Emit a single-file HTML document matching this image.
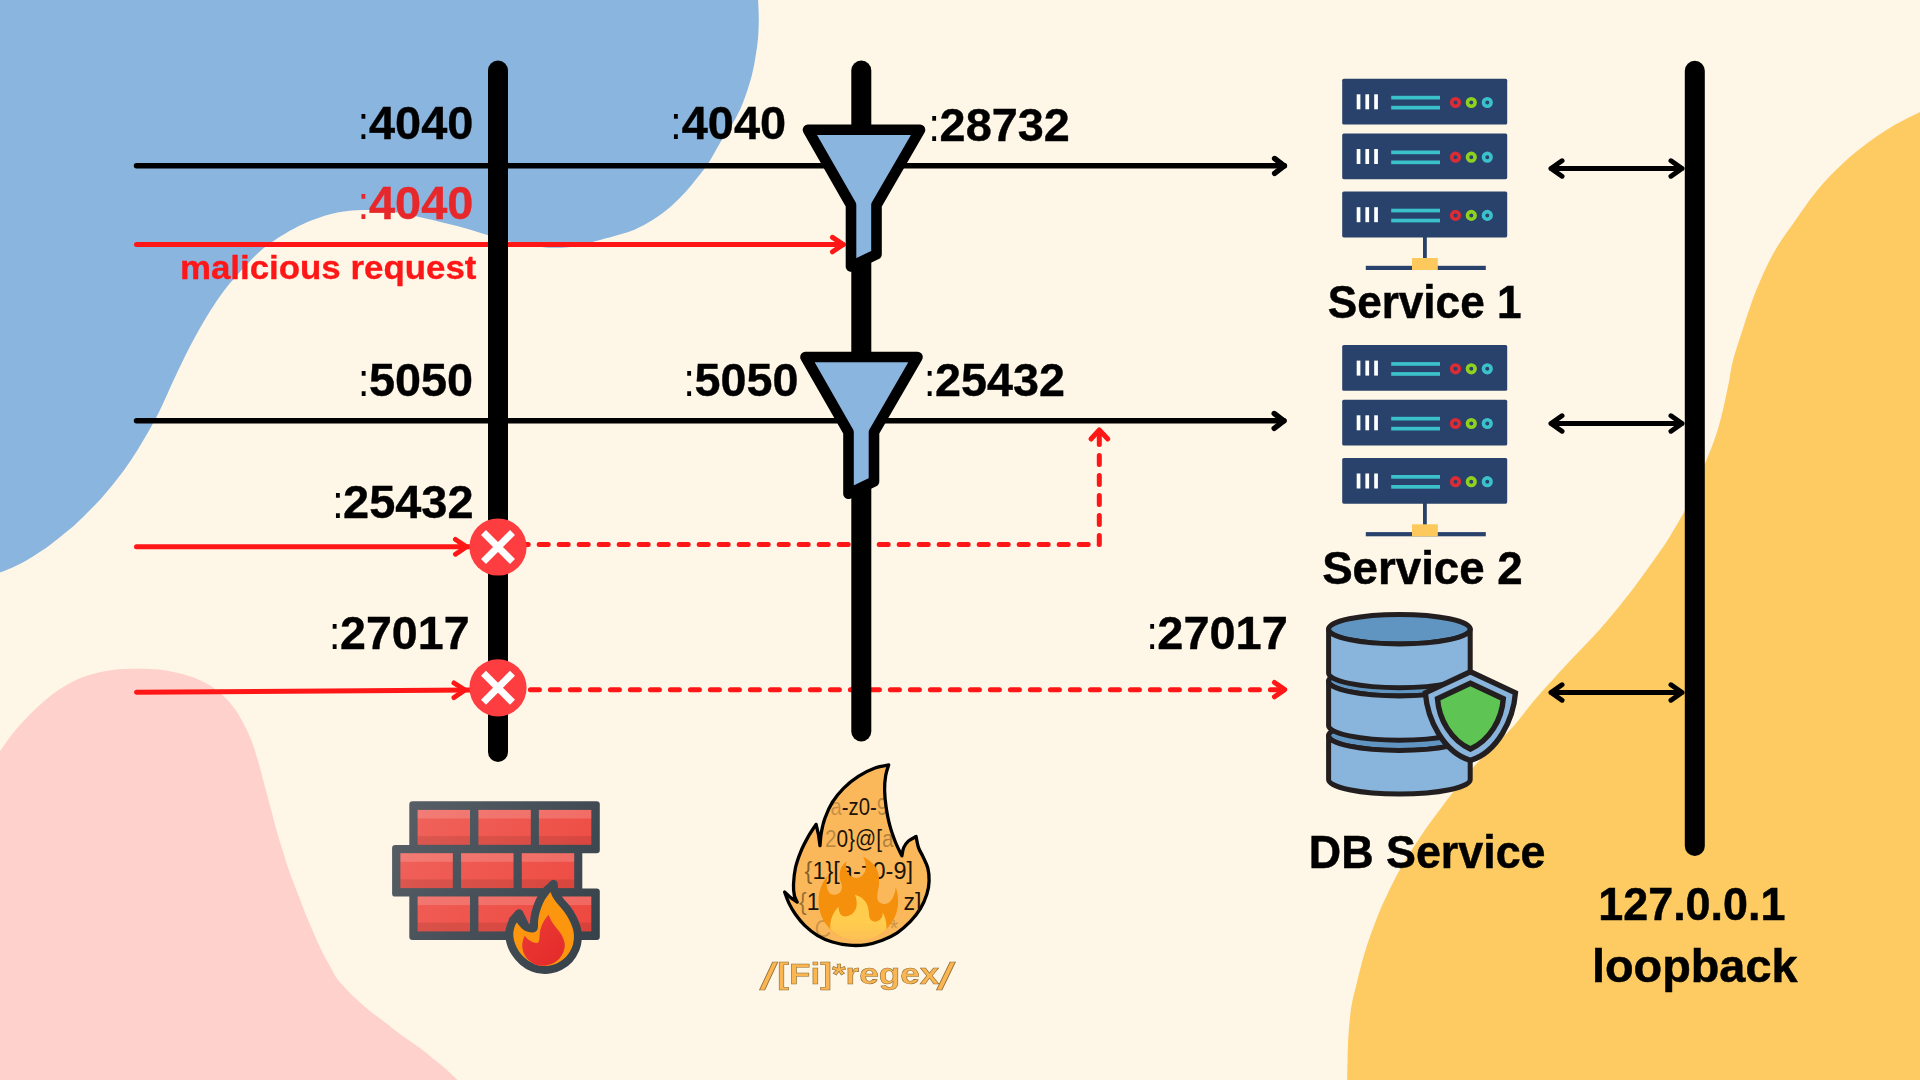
<!DOCTYPE html>
<html><head><meta charset="utf-8"><title>Firegex diagram</title>
<style>
html,body{margin:0;padding:0;background:#fef6e6;overflow:hidden}
svg{display:block}
text{font-family:"Liberation Sans",sans-serif}
.b{font-weight:700}
</style></head><body>
<svg width="1920" height="1080" viewBox="0 0 1920 1080">
<rect width="1920" height="1080" fill="#fef6e6"/>
<!-- background blobs -->
<path d="M757.8,-8.0 C757.8,-6.7 757.9,-4.5 758.1,0.0 C758.3,4.5 758.8,12.5 758.8,18.8 C758.8,25.0 758.6,31.2 758.1,37.5 C757.6,43.8 756.6,50.0 755.6,56.2 C754.6,62.5 753.5,68.8 751.9,75.0 C750.3,81.2 748.2,88.1 746.2,93.8 C744.3,99.4 742.6,104.0 740.3,109.0 C738.0,114.0 735.3,119.0 732.3,124.0 C729.3,129.0 726.4,132.3 722.5,138.8 C718.6,145.2 712.9,156.0 708.8,162.5 C704.6,169.0 701.5,172.5 697.5,177.5 C693.5,182.5 689.2,187.9 685.0,192.5 C680.8,197.1 676.7,201.2 672.5,205.0 C668.3,208.8 664.2,212.0 660.0,215.0 C655.8,218.0 651.7,220.7 647.5,223.1 C643.3,225.5 639.9,227.4 635.0,229.4 C630.1,231.4 623.8,233.3 618.0,235.1 C612.2,236.9 607.2,238.1 600.0,240.0 C592.8,241.9 582.9,245.0 575.0,246.2 C567.1,247.5 560.8,248.0 552.5,247.8 C544.2,247.5 532.4,246.1 525.0,245.0 C517.6,243.9 514.4,242.9 508.1,241.2 C501.9,239.6 495.1,237.3 487.5,235.0 C479.9,232.7 470.8,229.8 462.5,227.5 C454.2,225.2 445.2,223.1 437.5,221.2 C429.8,219.4 423.5,217.9 416.2,216.3 C409.0,214.7 402.7,213.0 393.8,211.9 C384.8,210.8 371.9,209.9 362.5,210.0 C353.1,210.1 345.8,210.8 337.5,212.5 C329.2,214.2 319.8,217.3 312.5,220.0 C305.2,222.7 300.0,225.4 293.8,228.8 C287.5,232.1 280.6,236.2 275.0,240.0 C269.4,243.8 264.6,247.3 260.0,251.2 C255.4,255.2 251.7,259.4 247.5,263.8 C243.3,268.1 239.0,273.0 235.0,277.5 C231.0,282.0 227.9,285.4 223.8,291.0 C219.6,296.6 214.4,304.3 210.0,311.2 C205.6,318.2 201.7,325.0 197.5,332.5 C193.3,340.0 189.2,347.9 185.0,356.2 C180.8,364.6 176.7,373.5 172.5,382.5 C168.3,391.5 163.8,402.3 160.0,410.0 C156.2,417.7 153.8,422.1 150.0,428.8 C146.2,435.4 141.7,443.3 137.5,450.0 C133.3,456.7 129.2,462.9 125.0,468.8 C120.8,474.6 116.7,479.8 112.5,485.0 C108.3,490.2 104.2,495.1 100.0,499.7 C95.8,504.3 91.7,508.3 87.5,512.5 C83.3,516.7 79.2,521.0 75.0,524.7 C70.8,528.5 66.7,531.6 62.5,535.0 C58.3,538.4 53.5,542.4 50.0,545.0 C46.5,547.6 44.5,548.9 41.7,550.8 C38.9,552.7 36.1,554.5 33.3,556.2 C30.5,558.0 27.8,559.7 25.0,561.2 C22.2,562.8 19.5,564.1 16.7,565.4 C13.9,566.7 11.1,568.0 8.3,569.2 C5.5,570.4 2.7,571.4 0.0,572.5 C-2.7,573.6 -6.7,575.4 -8.0,576.0 L-8,-8 Z" fill="#8ab5de"/>
<path d="M1935.0,104.5 C1932.5,105.7 1927.1,108.3 1920.0,111.9 C1912.9,115.5 1901.2,121.0 1892.5,126.2 C1883.8,131.4 1875.8,136.8 1867.5,143.1 C1859.2,149.3 1850.8,155.9 1842.5,163.8 C1834.2,171.6 1825.8,179.9 1817.5,190.0 C1809.2,200.1 1799.2,215.0 1792.5,224.4 C1785.8,233.8 1782.1,238.7 1777.5,246.2 C1772.9,253.8 1769.2,261.0 1765.0,270.0 C1760.8,279.0 1756.2,290.0 1752.5,300.0 C1748.8,310.0 1745.7,320.0 1742.5,330.0 C1739.3,340.0 1735.4,351.2 1733.1,360.0 C1730.8,368.8 1730.3,374.8 1728.8,382.5 C1727.2,390.2 1725.4,399.0 1723.8,406.2 C1722.1,413.5 1720.6,419.8 1718.8,426.2 C1716.9,432.7 1714.8,438.8 1712.5,445.0 C1710.2,451.2 1707.8,456.8 1705.0,463.8 C1702.2,470.8 1698.9,479.2 1695.5,487.0 C1692.1,494.8 1689.0,502.4 1684.8,510.6 C1680.5,518.8 1674.5,528.9 1670.0,536.2 C1665.5,543.6 1661.7,549.0 1657.5,555.0 C1653.3,561.0 1649.2,566.8 1645.0,572.5 C1640.8,578.2 1637.3,583.1 1632.5,589.4 C1627.7,595.6 1621.2,603.9 1616.2,610.0 C1611.2,616.1 1606.9,621.2 1602.5,626.2 C1598.1,631.2 1594.2,635.5 1590.0,640.0 C1585.8,644.5 1581.7,648.7 1577.5,653.1 C1573.3,657.5 1569.2,661.8 1565.0,666.2 C1560.8,670.7 1556.7,675.4 1552.5,680.0 C1548.3,684.6 1544.2,689.0 1540.0,693.8 C1535.8,698.5 1531.7,703.6 1527.5,708.8 C1523.3,713.9 1520.2,718.5 1515.0,724.4 C1509.8,730.3 1502.0,737.9 1496.0,744.0 C1490.0,750.1 1483.9,755.8 1478.8,761.2 C1473.6,766.8 1469.4,771.7 1465.0,777.0 C1460.6,782.3 1456.7,787.7 1452.5,793.1 C1448.3,798.5 1444.2,803.9 1440.0,809.4 C1435.8,814.9 1431.7,820.3 1427.5,826.2 C1423.3,832.2 1418.8,839.2 1415.0,845.0 C1411.2,850.8 1407.8,856.6 1405.0,861.2 C1402.2,865.9 1400.5,868.4 1398.0,873.0 C1395.5,877.6 1392.8,883.0 1390.0,888.8 C1387.2,894.5 1384.0,901.2 1381.2,907.5 C1378.5,913.8 1376.0,920.2 1373.8,926.2 C1371.5,932.3 1369.5,937.7 1367.5,943.8 C1365.5,949.8 1363.7,956.0 1361.9,962.5 C1360.1,969.0 1358.5,975.8 1356.9,982.5 C1355.3,989.2 1353.2,996.7 1352.1,1002.5 C1350.9,1008.3 1350.6,1012.4 1350.0,1017.5 C1349.4,1022.6 1349.0,1027.5 1348.6,1033.3 C1348.2,1039.1 1347.9,1044.7 1347.7,1052.5 C1347.5,1060.3 1347.3,1073.8 1347.2,1080.0 C1347.1,1086.2 1347.1,1088.3 1347.1,1090.0 L1935,1090 Z" fill="#fdcb62"/>
<path d="M-8.0,763.0 C-6.7,761.0 -3.4,756.1 0.0,751.2 C3.4,746.4 8.3,739.1 12.5,733.8 C16.7,728.4 20.8,723.9 25.0,719.4 C29.2,714.9 33.3,710.8 37.5,706.9 C41.7,703.0 45.8,699.5 50.0,696.2 C54.2,693.0 58.3,690.1 62.5,687.5 C66.7,684.9 70.8,682.6 75.0,680.6 C79.2,678.6 83.3,677.0 87.5,675.6 C91.7,674.2 95.8,673.2 100.0,672.2 C104.2,671.3 108.3,670.5 112.5,670.0 C116.7,669.5 120.8,669.3 125.0,669.1 C129.2,668.9 133.3,668.8 137.5,668.8 C141.7,668.7 145.8,668.8 150.0,669.0 C154.2,669.2 158.0,669.4 162.5,670.0 C167.0,670.6 172.6,671.7 177.0,672.7 C181.4,673.7 185.2,674.8 189.0,676.0 C192.8,677.2 196.0,678.3 200.0,680.2 C204.0,682.1 208.7,684.4 213.0,687.4 C217.3,690.4 222.2,694.6 226.0,698.4 C229.8,702.2 232.7,706.0 235.5,710.0 C238.3,714.0 240.4,717.5 243.0,722.5 C245.6,727.5 249.0,734.6 251.2,740.0 C253.5,745.4 254.6,749.6 256.2,755.0 C257.9,760.4 259.7,766.7 261.2,772.5 C262.8,778.3 263.9,782.9 265.8,790.0 C267.7,797.1 270.6,807.7 272.5,815.0 C274.4,822.3 275.8,827.9 277.5,833.8 C279.2,839.6 280.8,844.6 282.5,850.0 C284.2,855.4 285.8,861.2 287.5,866.2 C289.2,871.2 290.6,875.0 292.5,880.0 C294.4,885.0 296.2,889.8 298.8,896.2 C301.2,902.7 304.8,912.1 307.5,918.8 C310.2,925.4 312.5,930.6 315.0,936.2 C317.5,941.9 320.0,947.5 322.5,952.5 C325.0,957.5 327.7,962.1 330.0,966.2 C332.3,970.4 334.2,974.4 336.2,977.5 C338.3,980.6 340.2,982.4 342.5,985.0 C344.8,987.6 347.4,990.5 350.0,993.1 C352.6,995.7 354.7,997.8 358.0,1000.8 C361.3,1003.8 365.5,1007.4 370.0,1011.0 C374.5,1014.6 379.6,1018.3 384.8,1022.3 C390.1,1026.3 395.8,1031.0 401.5,1035.2 C407.2,1039.4 413.5,1043.2 419.2,1047.5 C424.9,1051.8 430.9,1056.8 435.8,1060.8 C440.7,1064.8 444.7,1068.0 448.3,1071.2 C451.9,1074.5 454.2,1076.9 457.5,1080.0 C460.8,1083.1 466.2,1088.3 468.0,1090.0 L-8,1090 Z" fill="#fed1cc"/>

<!-- horizontal flow lines -->
<g fill="none" stroke="#000" stroke-width="5.4" stroke-linecap="round" stroke-linejoin="round">
  <path d="M136.5,165.8 H1284.5"/>
  <path d="M1274.6,158.5 L1284.3,165.9 L1274.6,173.4"/>
  <path d="M136.5,420.8 H1284"/>
  <path d="M1274.2,413.5 L1283.9,420.9 L1274.2,428.4"/>
</g>
<g fill="none" stroke="#ff1616" stroke-width="5" stroke-linecap="round" stroke-linejoin="round">
  <path d="M136.5,244.5 H843"/>
  <path d="M832.5,237.3 L843.3,244.5 L832.5,251.8"/>
  <path d="M136.5,546.8 H472"/>
  <path d="M455.5,539.5 L466.5,546.8 L455.5,554.2"/>
  <path d="M136.5,692.3 L472,689.9"/>
  <path d="M454,683 L465,690 L454,697.5"/>
  <!-- dashed -->
  <path d="M499.2,544.4 H1099.3 V430" stroke-dasharray="9 11"/>
  <path d="M1091,439 L1099.3,430 L1107.8,439"/>
  <path d="M490.4,689.8 H1284.5" stroke-dasharray="9 11"/>
  <path d="M1274.5,682.5 L1284.7,689.6 L1274.5,696.8"/>
</g>

<!-- vertical bars -->
<g stroke="#000" stroke-width="20" stroke-linecap="round" fill="none">
  <path d="M498,70.5 V752"/>
  <path d="M861.3,70.5 V731.5"/>
  <path d="M1694.8,70.8 V846"/>
</g>

<!-- funnels -->
<g fill="#8ab5de" stroke="#000" stroke-width="10.6" stroke-linejoin="round">
  <path id="fun" d="M808,129.8 H920 L876.5,205 V254.3 L851,266.5 V205 Z"/>
  <use href="#fun" x="-2.5" y="227.2"/>
</g>

<!-- blocked circles -->
<g>
  <circle cx="498" cy="547" r="28.6" fill="#fd3d40"/>
  <path d="M483.5,532.5 L512.5,561.5 M512.5,532.5 L483.5,561.5" stroke="#fff" stroke-width="7" fill="none"/>
  <circle cx="498" cy="687.8" r="28.6" fill="#fd3d40"/>
  <path d="M483.5,673.3 L512.5,702.3 M512.5,673.3 L483.5,702.3" stroke="#fff" stroke-width="7" fill="none"/>
</g>


<!-- server racks -->
<defs>
  <g id="unit">
    <rect x="0" y="0" width="165" height="45.8" rx="1.6" fill="#29426b"/>
    <rect x="14.5" y="15.6" width="3.7" height="15" fill="#fff"/>
    <rect x="23.2" y="15.6" width="3.7" height="15" fill="#fff"/>
    <rect x="32" y="15.6" width="3.7" height="15" fill="#fff"/>
    <rect x="49" y="17.1" width="48.8" height="3.7" fill="#3bc1ca"/>
    <rect x="49" y="27.1" width="48.8" height="3.7" fill="#3bc1ca"/>
    <circle cx="113.3" cy="23.8" r="3.8" fill="none" stroke="#dc2b34" stroke-width="3.6"/>
    <circle cx="129.1" cy="23.8" r="3.8" fill="none" stroke="#8fd21e" stroke-width="3.6"/>
    <circle cx="145.1" cy="23.8" r="3.8" fill="none" stroke="#3bc1ca" stroke-width="3.6"/>
  </g>
  <g id="rack">
    <use href="#unit" x="0" y="0"/>
    <use href="#unit" x="0" y="54.7"/>
    <use href="#unit" x="0" y="112.9"/>
    <rect x="80.8" y="158" width="3.8" height="22" fill="#29426b"/>
    <rect x="23.6" y="187.1" width="120" height="4.2" fill="#29426b"/>
    <rect x="69.8" y="179.3" width="25.8" height="12" fill="#fdc95d"/>
  </g>
</defs>
<use href="#rack" x="1342.2" y="78.7"/>
<use href="#rack" x="1342.2" y="345"/>


<!-- DB icon -->
<g stroke="#231f20" stroke-width="5" stroke-linejoin="round" stroke-linecap="round">
  <ellipse cx="1399.4" cy="735.7" rx="70.8" ry="14.7" fill="#6195c1"/>
  <path d="M1328.6,735.7 V779.4 A70.8,14.7 0 0 0 1470.2,779.4 V735.7 A70.8,14.7 0 0 1 1328.6,735.7 Z" fill="#89b4db"/>
  <ellipse cx="1399.4" cy="681.2" rx="70.8" ry="14.7" fill="#6195c1"/>
  <path d="M1328.6,681.2 V725.5 A70.8,14.7 0 0 0 1470.2,725.5 V681.2 A70.8,14.7 0 0 1 1328.6,681.2 Z" fill="#89b4db"/>
  <ellipse cx="1399.4" cy="629.2" rx="70.8" ry="14.7" fill="#6195c1"/>
  <path d="M1328.6,629.2 V673.0 A70.8,14.7 0 0 0 1470.2,673.0 V629.2 A70.8,14.7 0 0 1 1328.6,629.2 Z" fill="#89b4db"/>
</g>
<g stroke="#231f20" stroke-linejoin="miter" transform="translate(1470.4,716.2) scale(1.022,1.03) translate(-1470.2,-716)">
  <path d="M1470.2,672.8 L1514.3,693.3 C1512.3,719.0 1496.7,751.1 1470.2,758.9 C1443.7,751.1 1428.1,719.0 1426.1,693.3 Z" fill="#89b4db" stroke-width="5.2"/>
  <path d="M1470.2,684 L1502.4,699 C1501.0,719.3 1489.1,739.2 1470.2,747.9 C1451.3,739.2 1439.4,719.3 1438.0,699 Z" fill="#5ec453" stroke-width="5.3"/>
</g>









<!-- firewall icon -->
<defs>
  <linearGradient id="frm" gradientUnits="userSpaceOnUse" x1="395" y1="805" x2="600" y2="945"><stop offset="0" stop-color="#585f67"/><stop offset="1" stop-color="#36414a"/></linearGradient>
  <linearGradient id="brk" gradientUnits="userSpaceOnUse" x1="395" y1="805" x2="600" y2="945"><stop offset="0" stop-color="#f0655d"/><stop offset="1" stop-color="#ed463d"/></linearGradient>
  <linearGradient id="flr" gradientUnits="userSpaceOnUse" x1="525" y1="920" x2="565" y2="965"><stop offset="0" stop-color="#ea3a35"/><stop offset="1" stop-color="#e42a2a"/></linearGradient>
</defs>
<g>
  <rect x="409.3" y="801.2" width="190.5" height="52" rx="3.2" fill="url(#frm)"/>
  <rect x="392.1" y="845" width="190.2" height="51.6" rx="3.2" fill="url(#frm)"/>
  <rect x="409.3" y="888.4" width="190.5" height="51.5" rx="3.2" fill="url(#frm)"/>
  <rect x="417.6" y="809.9" width="52.4" height="34.9" fill="url(#brk)"/><rect x="417.6" y="809.9" width="52.4" height="8.6" fill="#fff" fill-opacity=".17"/><rect x="417.6" y="836.1" width="52.4" height="8.7" fill="#000" fill-opacity=".09"/>
  <rect x="478.4" y="809.9" width="52.4" height="34.9" fill="url(#brk)"/><rect x="478.4" y="809.9" width="52.4" height="8.6" fill="#fff" fill-opacity=".17"/><rect x="478.4" y="836.1" width="52.4" height="8.7" fill="#000" fill-opacity=".09"/>
  <rect x="538.9" y="809.9" width="52.4" height="34.9" fill="url(#brk)"/><rect x="538.9" y="809.9" width="52.4" height="8.6" fill="#fff" fill-opacity=".17"/><rect x="538.9" y="836.1" width="52.4" height="8.7" fill="#000" fill-opacity=".09"/>
  <rect x="400.4" y="853.2" width="52.4" height="34.9" fill="url(#brk)"/><rect x="400.4" y="853.2" width="52.4" height="8.6" fill="#fff" fill-opacity=".17"/><rect x="400.4" y="879.4" width="52.4" height="8.7" fill="#000" fill-opacity=".09"/>
  <rect x="461.1" y="853.2" width="52.4" height="34.9" fill="url(#brk)"/><rect x="461.1" y="853.2" width="52.4" height="8.6" fill="#fff" fill-opacity=".17"/><rect x="461.1" y="879.4" width="52.4" height="8.7" fill="#000" fill-opacity=".09"/>
  <rect x="521.8" y="853.2" width="52.4" height="34.9" fill="url(#brk)"/><rect x="521.8" y="853.2" width="52.4" height="8.6" fill="#fff" fill-opacity=".17"/><rect x="521.8" y="879.4" width="52.4" height="8.7" fill="#000" fill-opacity=".09"/>
  <rect x="417.6" y="896.5" width="52.4" height="34.9" fill="url(#brk)"/><rect x="417.6" y="896.5" width="52.4" height="8.6" fill="#fff" fill-opacity=".17"/><rect x="417.6" y="922.7" width="52.4" height="8.7" fill="#000" fill-opacity=".09"/>
  <rect x="478.4" y="896.5" width="112.9" height="34.9" fill="url(#brk)"/><rect x="478.4" y="896.5" width="112.9" height="8.6" fill="#fff" fill-opacity=".17"/><rect x="478.4" y="922.7" width="112.9" height="8.7" fill="#000" fill-opacity=".09"/>
  
  <g fill="none" stroke="url(#frm)" stroke-linejoin="round" stroke-linecap="round">
    <path d="M550.5,891.9 C550.9,892.8 551.7,895.4 553.0,897.5 C554.3,899.6 556.2,902.2 558.1,904.6 C560.0,907.0 562.3,909.2 564.2,911.8 C566.1,914.3 567.8,917.0 569.3,919.9 C570.8,922.8 572.1,926.0 572.9,929.1 C573.7,932.2 574.1,935.2 573.9,938.2 C573.7,941.2 573.2,944.3 571.9,947.4 C570.6,950.5 568.6,954.0 566.3,956.6 C564.0,959.2 560.8,961.2 558.1,962.7 C555.4,964.2 552.5,965.0 550.0,965.5 C547.5,966.0 545.4,966.1 542.9,965.9 C540.4,965.7 537.6,965.4 534.7,964.2 C531.8,963.0 528.2,960.9 525.5,958.6 C522.8,956.3 520.3,953.3 518.4,950.4 C516.5,947.5 515.1,944.2 514.3,941.3 C513.4,938.4 513.2,935.6 513.3,933.1 C513.4,930.6 514.3,927.8 514.9,926.0 C515.5,924.2 516.6,923.0 516.9,922.4 C517.5,923.2 519.1,925.5 520.5,927.0 C521.9,928.5 523.6,930.2 525.5,931.1 C527.4,932.0 530.0,932.5 531.7,932.6 C533.4,932.7 534.7,932.4 535.7,931.6 C536.7,930.8 537.4,930.1 537.8,928.0 C538.2,925.9 537.8,922.1 538.3,918.9 C538.8,915.7 539.7,911.9 540.8,908.7 C541.9,905.5 543.3,902.3 544.9,899.5 C546.5,896.7 549.6,893.2 550.5,891.9 Z" stroke-width="16"/>
  </g>
  <path d="M541.5,890 L550.3,881.3 A4.2,4.2 0 0 1 557.6,883 L558.6,894 Z" fill="url(#frm)"/>
  <path d="M508.5,919 L516,910.6 A4.2,4.2 0 0 1 522.6,911 L528.5,923 L517,925 Z" fill="url(#frm)"/>
  <path d="M550.5,891.9 C550.9,892.8 551.7,895.4 553.0,897.5 C554.3,899.6 556.2,902.2 558.1,904.6 C560.0,907.0 562.3,909.2 564.2,911.8 C566.1,914.3 567.8,917.0 569.3,919.9 C570.8,922.8 572.1,926.0 572.9,929.1 C573.7,932.2 574.1,935.2 573.9,938.2 C573.7,941.2 573.2,944.3 571.9,947.4 C570.6,950.5 568.6,954.0 566.3,956.6 C564.0,959.2 560.8,961.2 558.1,962.7 C555.4,964.2 552.5,965.0 550.0,965.5 C547.5,966.0 545.4,966.1 542.9,965.9 C540.4,965.7 537.6,965.4 534.7,964.2 C531.8,963.0 528.2,960.9 525.5,958.6 C522.8,956.3 520.3,953.3 518.4,950.4 C516.5,947.5 515.1,944.2 514.3,941.3 C513.4,938.4 513.2,935.6 513.3,933.1 C513.4,930.6 514.3,927.8 514.9,926.0 C515.5,924.2 516.6,923.0 516.9,922.4 C517.5,923.2 519.1,925.5 520.5,927.0 C521.9,928.5 523.6,930.2 525.5,931.1 C527.4,932.0 530.0,932.5 531.7,932.6 C533.4,932.7 534.7,932.4 535.7,931.6 C536.7,930.8 537.4,930.1 537.8,928.0 C538.2,925.9 537.8,922.1 538.3,918.9 C538.8,915.7 539.7,911.9 540.8,908.7 C541.9,905.5 543.3,902.3 544.9,899.5 C546.5,896.7 549.6,893.2 550.5,891.9 Z" fill="#fd960f"/>
  <path d="M548.5,914.8 C549.1,916.0 550.4,919.3 552.0,921.9 C553.6,924.5 556.3,927.5 558.1,930.1 C559.9,932.7 561.6,934.7 562.7,937.2 C563.8,939.8 564.9,942.5 564.8,945.4 C564.7,948.3 563.7,951.8 562.2,954.5 C560.8,957.2 558.5,959.8 556.1,961.6 C553.7,963.4 550.5,964.5 548.0,965.2 C545.5,965.9 543.3,966.0 540.8,965.7 C538.2,965.4 535.2,964.7 532.7,963.2 C530.2,961.7 527.2,959.2 525.5,956.6 C523.8,954.0 522.7,950.1 522.3,947.4 C521.9,944.7 522.6,942.2 523.0,940.3 C523.4,938.3 524.5,936.5 524.8,935.7 C525.4,936.4 527.1,938.7 528.6,939.8 C530.1,940.9 532.1,942.1 533.7,942.5 C535.3,942.9 537.3,943.2 538.3,942.3 C539.3,941.4 539.2,939.2 539.5,937.2 C539.8,935.2 539.6,932.7 540.3,930.1 C540.9,927.5 542.0,924.5 543.4,921.9 C544.8,919.3 547.6,916.0 548.5,914.8 Z" fill="url(#flr)"/>
</g>

<!-- regex flame icon -->
<defs>
  <clipPath id="flc"><path d="M888.7,764.9 C886.4,765.4 880.1,766.1 875.0,768.0 C869.9,769.9 863.5,772.9 858.3,776.3 C853.0,779.7 847.8,784.0 843.5,788.3 C839.2,792.6 835.5,797.2 832.4,802.2 C829.3,807.2 826.9,812.9 825.0,818.0 C823.1,823.1 822.1,828.2 821.3,832.8 C820.5,837.4 820.2,843.6 820.0,845.7 L818.5,834.6 L816.1,824.4 C814.8,826.4 810.8,832.0 808.3,836.5 C805.8,841.0 803.0,846.0 800.9,851.3 C798.8,856.5 796.6,862.5 795.4,868.0 C794.2,873.5 793.7,880.0 793.5,884.6 C793.3,889.2 793.8,892.8 794.4,895.7 C795.0,898.6 796.7,901.1 797.2,902.2 L790.7,897.6 L784.6,892.0 C785.3,893.9 787.1,899.4 788.9,903.1 C790.7,906.8 792.8,910.6 795.4,914.3 C798.0,918.0 800.9,921.8 804.6,925.4 C808.3,929.0 813.0,932.8 817.6,935.6 C822.2,938.4 827.1,940.4 832.4,942.0 C837.6,943.6 843.5,944.7 849.1,945.2 C854.7,945.7 860.2,945.6 865.7,944.8 C871.2,944.0 877.1,942.2 882.4,940.2 C887.6,938.2 892.6,935.9 897.2,932.8 C901.8,929.7 906.3,925.7 910.2,921.7 C914.1,917.7 917.6,913.3 920.4,908.7 C923.2,904.1 925.4,898.5 926.9,893.9 C928.4,889.3 929.0,885.2 929.1,880.9 C929.2,876.6 928.8,872.0 927.8,868.0 C926.8,864.0 924.6,860.3 923.1,856.9 C921.6,853.5 919.7,851.0 918.5,847.6 C917.3,844.2 916.5,838.4 916.1,836.5 C914.8,837.3 910.4,839.2 908.3,841.1 C906.2,843.0 904.8,845.1 903.7,847.6 C902.6,850.1 902.2,854.5 901.9,855.9 C900.8,853.6 897.4,847.1 895.4,842.0 C893.4,836.9 891.3,831.2 889.8,825.4 C888.2,819.5 887.0,812.8 886.1,806.9 C885.2,801.0 884.7,795.5 884.6,790.2 C884.5,785.0 885.0,779.6 885.7,775.4 C886.4,771.2 888.2,766.6 888.7,764.9 Z"/></clipPath>
  <linearGradient id="emf" x1="0" y1="0" x2="0" y2="1"><stop offset="0" stop-color="#fff"/><stop offset=".8" stop-color="#fff"/><stop offset="1" stop-color="#fff" stop-opacity=".3"/></linearGradient>
  <mask id="emm" maskUnits="userSpaceOnUse" x="0" y="0" width="36" height="36"><rect width="36" height="36" fill="url(#emf)"/></mask>
</defs>
<path d="M888.7,764.9 C886.4,765.4 880.1,766.1 875.0,768.0 C869.9,769.9 863.5,772.9 858.3,776.3 C853.0,779.7 847.8,784.0 843.5,788.3 C839.2,792.6 835.5,797.2 832.4,802.2 C829.3,807.2 826.9,812.9 825.0,818.0 C823.1,823.1 822.1,828.2 821.3,832.8 C820.5,837.4 820.2,843.6 820.0,845.7 L818.5,834.6 L816.1,824.4 C814.8,826.4 810.8,832.0 808.3,836.5 C805.8,841.0 803.0,846.0 800.9,851.3 C798.8,856.5 796.6,862.5 795.4,868.0 C794.2,873.5 793.7,880.0 793.5,884.6 C793.3,889.2 793.8,892.8 794.4,895.7 C795.0,898.6 796.7,901.1 797.2,902.2 L790.7,897.6 L784.6,892.0 C785.3,893.9 787.1,899.4 788.9,903.1 C790.7,906.8 792.8,910.6 795.4,914.3 C798.0,918.0 800.9,921.8 804.6,925.4 C808.3,929.0 813.0,932.8 817.6,935.6 C822.2,938.4 827.1,940.4 832.4,942.0 C837.6,943.6 843.5,944.7 849.1,945.2 C854.7,945.7 860.2,945.6 865.7,944.8 C871.2,944.0 877.1,942.2 882.4,940.2 C887.6,938.2 892.6,935.9 897.2,932.8 C901.8,929.7 906.3,925.7 910.2,921.7 C914.1,917.7 917.6,913.3 920.4,908.7 C923.2,904.1 925.4,898.5 926.9,893.9 C928.4,889.3 929.0,885.2 929.1,880.9 C929.2,876.6 928.8,872.0 927.8,868.0 C926.8,864.0 924.6,860.3 923.1,856.9 C921.6,853.5 919.7,851.0 918.5,847.6 C917.3,844.2 916.5,838.4 916.1,836.5 C914.8,837.3 910.4,839.2 908.3,841.1 C906.2,843.0 904.8,845.1 903.7,847.6 C902.6,850.1 902.2,854.5 901.9,855.9 C900.8,853.6 897.4,847.1 895.4,842.0 C893.4,836.9 891.3,831.2 889.8,825.4 C888.2,819.5 887.0,812.8 886.1,806.9 C885.2,801.0 884.7,795.5 884.6,790.2 C884.5,785.0 885.0,779.6 885.7,775.4 C886.4,771.2 888.2,766.6 888.7,764.9 Z" fill="#fbb85a" stroke="#000" stroke-width="3.3" stroke-linejoin="round"/>
<g clip-path="url(#flc)" font-size="23" fill="#1c1408">
  <text x="830.5" y="814.6" textLength="57.5" lengthAdjust="spacingAndGlyphs"><tspan fill-opacity=".25">a</tspan>-z0-<tspan fill-opacity=".3">9</tspan></text>
  <text x="825" y="846.7" textLength="68.5" lengthAdjust="spacingAndGlyphs"><tspan fill-opacity=".3">2</tspan>0}@[<tspan fill-opacity=".35">a</tspan></text>
  <text x="804.6" y="879.4" textLength="108.4" lengthAdjust="spacingAndGlyphs"><tspan fill-opacity=".55">{</tspan>1}[a-z0-9]</text>
  <text y="910.2"><tspan x="799" fill-opacity=".45">{</tspan>1<tspan x="903.5">z]</tspan></text>
  <text y="937" fill-opacity=".22"><tspan x="814.5">C</tspan><tspan x="889.5">*</tspan></text>
</g>
<g transform="translate(816.2,856.4) scale(2.342)" mask="url(#emm)">
  <path fill="#f4900c" d="M35 19c0-2.062-.367-4.039-1.040-5.868-.46 5.389-3.333 8.157-6.335 6.868-2.812-1.208-.917-5.917-.777-8.164.236-3.809-.012-8.169-6.931-11.794 2.875 5.5.333 8.917-2.333 9.125-2.958.231-5.667-2.542-4.667-7.042-3.238 2.386-3.332 6.402-2.333 9 1.042 2.708-.042 4.958-2.583 5.208-2.840.280-4.418-3.041-2.963-8.333C2.520 10.965 1 14.805 1 19c0 9.389 7.611 17 17 17s17-7.611 17-17z"/>
  <path fill="#ffcc4d" d="M28.394 23.999c.148 3.084-2.561 4.293-4.019 3.709-2.106-.843-1.541-2.291-2.083-5.291s-2.625-5.083-5.708-6c2.250 6.333-1.247 8.667-3.080 9.084-1.872.426-3.753-.001-3.968-4.007C7.352 23.668 6 26.676 6 30c0 .368.023.730.055 1.090C9.125 34.124 13.342 36 18 36s8.875-1.876 11.945-4.910c.032-.360.055-.722.055-1.090 0-2.187-.584-4.236-1.606-6.001z"/>
</g>
<text class="b" fill="#fbb651" stroke="#7a5a28" stroke-width=".55" stroke-opacity=".85" opacity=".999"><tspan font-size="38.7" font-weight="400" x="759.43" y="990" textLength="18.24" lengthAdjust="spacingAndGlyphs">/</tspan><tspan font-size="29.8" x="777.32" y="983.5" textLength="162.08" lengthAdjust="spacingAndGlyphs">[Fi]*regex</tspan><tspan font-size="38.7" font-weight="400" x="936.53" y="990" textLength="18.84" lengthAdjust="spacingAndGlyphs">/</tspan></text>
<!-- /icons -->
<!-- double arrows -->
<g fill="none" stroke="#000" stroke-width="5" stroke-linecap="round" stroke-linejoin="round">
  <path d="M1551,168.5 H1682 M1562,160.8 L1551,168.5 L1562,176.2 M1671,160.8 L1682,168.5 L1671,176.2"/>
  <path d="M1551,423.5 H1682 M1562,415.8 L1551,423.5 L1562,431.2 M1671,415.8 L1682,423.5 L1671,431.2"/>
  <path d="M1551,692.5 H1682 M1562,684.8 L1551,692.5 L1562,700.2 M1671,684.8 L1682,692.5 L1671,700.2"/>
</g>

<!-- port labels -->
<g font-size="47.1" fill="#000" opacity=".999">
  <text y="138.80"><tspan x="357.73" textLength="11.32" lengthAdjust="spacingAndGlyphs">:</tspan><tspan class="b" stroke="#000" stroke-width=".4" x="369.04" textLength="104.34" lengthAdjust="spacingAndGlyphs">4040</tspan></text>
  <text y="218.80" fill="#e8272a"><tspan x="357.73" textLength="11.32" lengthAdjust="spacingAndGlyphs">:</tspan><tspan class="b" stroke="#e8272a" stroke-width=".4" x="369.04" textLength="104.34" lengthAdjust="spacingAndGlyphs">4040</tspan></text>
  <text y="139.30"><tspan x="670.13" textLength="11.32" lengthAdjust="spacingAndGlyphs">:</tspan><tspan class="b" stroke="#000" stroke-width=".4" x="681.79" textLength="104.34" lengthAdjust="spacingAndGlyphs">4040</tspan></text>
  <text y="140.80"><tspan x="928.43" textLength="11.32" lengthAdjust="spacingAndGlyphs">:</tspan><tspan class="b" stroke="#000" stroke-width=".4" x="939.62" textLength="130.22" lengthAdjust="spacingAndGlyphs">28732</tspan></text>
  <text y="395.80"><tspan x="358.03" textLength="11.32" lengthAdjust="spacingAndGlyphs">:</tspan><tspan class="b" stroke="#000" stroke-width=".4" x="369.01" textLength="104.07" lengthAdjust="spacingAndGlyphs">5050</tspan></text>
  <text y="395.60"><tspan x="683.43" textLength="11.32" lengthAdjust="spacingAndGlyphs">:</tspan><tspan class="b" stroke="#000" stroke-width=".4" x="694.57" textLength="103.88" lengthAdjust="spacingAndGlyphs">5050</tspan></text>
  <text y="396.30"><tspan x="923.93" textLength="11.32" lengthAdjust="spacingAndGlyphs">:</tspan><tspan class="b" stroke="#000" stroke-width=".4" x="935.12" textLength="129.83" lengthAdjust="spacingAndGlyphs">25432</tspan></text>
  <text y="517.90"><tspan x="332.13" textLength="11.32" lengthAdjust="spacingAndGlyphs">:</tspan><tspan class="b" stroke="#000" stroke-width=".4" x="343.07" textLength="130.43" lengthAdjust="spacingAndGlyphs">25432</tspan></text>
  <text y="649.20"><tspan x="328.93" textLength="11.32" lengthAdjust="spacingAndGlyphs">:</tspan><tspan class="b" stroke="#000" stroke-width=".4" x="340.07" textLength="129.47" lengthAdjust="spacingAndGlyphs">27017</tspan></text>
  <text y="648.90"><tspan x="1146.43" textLength="11.32" lengthAdjust="spacingAndGlyphs">:</tspan><tspan class="b" stroke="#000" stroke-width=".4" x="1157.27" textLength="130.60" lengthAdjust="spacingAndGlyphs">27017</tspan></text>
</g>
<g opacity=".999">
<text x="179.92" y="278.80" font-size="34" class="b" stroke="#ff1616" stroke-width=".35" fill="#ff1616" textLength="296.53" lengthAdjust="spacingAndGlyphs">malicious request</text>
<text x="1327.78" y="317.90" font-size="47.1" class="b" stroke="#000" stroke-width=".5" fill="#000" textLength="193.68" lengthAdjust="spacingAndGlyphs">Service 1</text>
<text x="1322.13" y="583.70" font-size="47.1" class="b" stroke="#000" stroke-width=".5" fill="#000" textLength="200.58" lengthAdjust="spacingAndGlyphs">Service 2</text>
<text x="1308.79" y="867.80" font-size="47.1" class="b" stroke="#000" stroke-width=".5" fill="#000" textLength="236.77" lengthAdjust="spacingAndGlyphs">DB Service</text>
<text x="1598.31" y="919.60" font-size="45.3" class="b" stroke="#000" stroke-width=".5" fill="#000" textLength="187.08" lengthAdjust="spacingAndGlyphs">127.0.0.1</text>
<text x="1591.94" y="982.20" font-size="45.3" class="b" stroke="#000" stroke-width=".5" fill="#000" textLength="205.56" lengthAdjust="spacingAndGlyphs">loopback</text>
</g>
</svg>

</body></html>
